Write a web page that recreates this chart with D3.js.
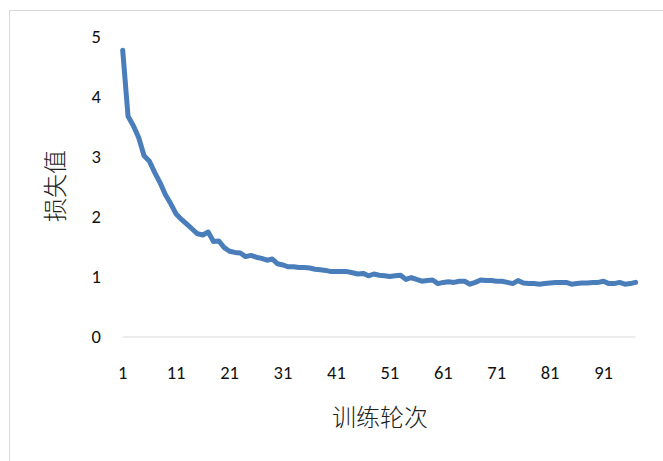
<!DOCTYPE html>
<html><head><meta charset="utf-8">
<script src="https://cdn.jsdelivr.net/npm/d3@7"></script>
<style>body{margin:0;background:#fff}svg{display:block}</style>
</head><body>
<script>
const epochs = d3.range(1, 98);
const loss = [4.78,3.68,3.52,3.32,3.02,2.93,2.74,2.57,2.37,2.22,
2.05,1.96,1.88,1.80,1.72,1.70,1.75,1.59,1.60,1.49,
1.43,1.41,1.40,1.34,1.36,1.33,1.31,1.28,1.30,1.22,
1.20,1.17,1.17,1.16,1.16,1.15,1.13,1.12,1.11,1.09,
1.09,1.09,1.09,1.07,1.05,1.06,1.02,1.05,1.03,1.02,
1.01,1.02,1.03,0.96,0.99,0.96,0.93,0.94,0.95,0.89,
0.91,0.92,0.91,0.93,0.93,0.88,0.91,0.95,0.94,0.94,
0.93,0.93,0.91,0.89,0.94,0.90,0.89,0.89,0.88,0.89,
0.90,0.91,0.91,0.91,0.88,0.89,0.90,0.90,0.91,0.91,
0.93,0.89,0.89,0.91,0.88,0.89,0.91];
const yTicks = [0,1,2,3,4,5];
const xTickLabels = [1,11,21,31,41,51,61,71,81,91];
const xTitle = "训练轮次";
const yTitle = "损失值";

const W = 663, H = 461;
const svg = d3.select("body").append("svg").attr("width", W).attr("height", H);
svg.append("rect").attr("x", 9.5).attr("y", 10.5).attr("width", 700).attr("height", 500)
  .attr("fill", "#fff").attr("stroke", "#d9d9d9");

const x = d3.scaleLinear().domain([1, 97]).range([122.7, 635.6]);
const y = d3.scaleLinear().domain([0, 5]).range([337, 37]);

svg.append("line").attr("x1", x(1)).attr("x2", x(97)).attr("y1", y(0)).attr("y2", y(0))
  .attr("stroke", "#d9d9d9").attr("stroke-width", 1);

const font = "Calibri, Carlito, 'Liberation Sans', Arial, sans-serif";
svg.append("g").selectAll("text").data(yTicks).join("text")
  .attr("x", 101).attr("y", d => y(d)).attr("dy", "0.35em")
  .attr("text-anchor", "end").attr("font-family", font).attr("font-size", 18.5)
  .attr("fill", "#111").text(d => d);

svg.append("g").selectAll("text").data(xTickLabels).join("text")
  .attr("x", d => x(d)).attr("y", 373).attr("dy", "0.35em")
  .attr("text-anchor", "middle").attr("font-family", font).attr("font-size", 18.5)
  .attr("fill", "#111").text(d => d);

svg.append("text").attr("x", 380).attr("y", 418).attr("dy", "0.35em")
  .attr("text-anchor", "middle").attr("font-family", "'Noto Sans CJK SC', sans-serif")
  .attr("font-size", 24).attr("font-weight", 300).attr("fill", "#222").text(xTitle);

svg.append("text").attr("transform", "translate(56,186) rotate(-90)").attr("dy", "0.35em")
  .attr("text-anchor", "middle").attr("font-family", "'Noto Sans CJK SC', sans-serif")
  .attr("font-size", 24).attr("font-weight", 300).attr("fill", "#222").text(yTitle);

const line = d3.line().x((d, i) => x(epochs[i])).y(d => y(d));
svg.append("path").datum(loss).attr("d", line).attr("fill", "none")
  .attr("stroke", "#4a7ebb").attr("stroke-width", 5)
  .attr("stroke-linejoin", "round").attr("stroke-linecap", "round");
</script>
</body></html>
